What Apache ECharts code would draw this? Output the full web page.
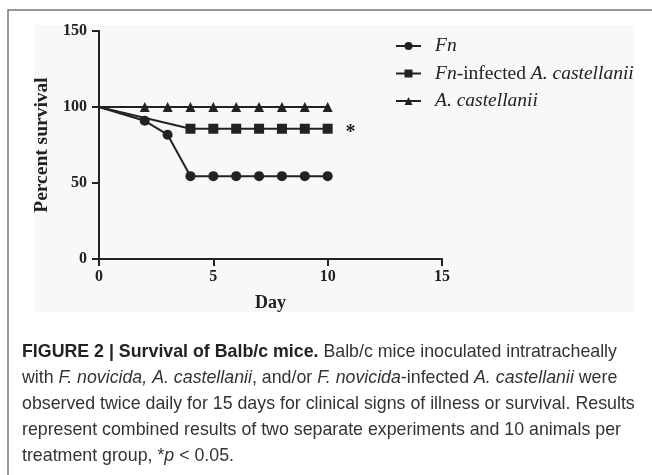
<!DOCTYPE html>
<html>
<head>
<meta charset="utf-8">
<script src="https://cdn.jsdelivr.net/npm/echarts@6/dist/echarts.min.js"></script>
<style>
  html, body { margin: 0; padding: 0; background: #fff; }
  #chart { width: 652px; height: 475px; }
</style>
</head>
<body>
<div id="chart"></div>
<script>
// 数据
const fnDays = [0, 2, 3, 4, 5, 6, 7, 8, 9, 10]
const fnSurvival = [100, 90.9, 81.8, 54.5, 54.5, 54.5, 54.5, 54.5, 54.5, 54.5]
const fnAcDays = [0, 4, 5, 6, 7, 8, 9, 10]
const fnAcSurvival = [100, 85.7, 85.7, 85.7, 85.7, 85.7, 85.7, 85.7]
const acDays = [0, 2, 3, 4, 5, 6, 7, 8, 9, 10]
const acSurvival = [100, 100, 100, 100, 100, 100, 100, 100, 100, 100]
const seriesNames = ['Fn', 'Fn-infected A. castellanii', 'A. castellanii']
const starPoint = [11, 85.7]
const captionLines = [
  '{b|FIGURE 2 | Survival of Balb/c mice.} Balb/c mice inoculated intratracheally',
  'with {i|F. novicida, A. castellanii}, and/or {i|F. novicida}-infected {i|A. castellanii} were',
  'observed twice daily for 15 days for clinical signs of illness or survival. Results',
  'represent combined results of two separate experiments and 10 animals per',
  'treatment group, *{i|p} < 0.05.'
]

const ink = '#222'
const serif = '"Liberation Serif", "DejaVu Serif", serif'
const sans = '"Liberation Sans", Arial, sans-serif'

// 第一个点不画标记
function toData (days, values) {
  return days.map((d, i) => i === 0 ? { value: [d, values[i]], symbol: 'none' } : [d, values[i]])
}

const legendLabels = {
  'Fn': '{i|Fn}',
  'Fn-infected A. castellanii': '{i|Fn}{r|-infected }{i|A. castellanii}',
  'A. castellanii': '{i|A. castellanii}'
}

const chartInstance = echarts.init(document.getElementById('chart'))

const captionGraphics = captionLines.map((line, i) => ({
  type: 'text',
  left: 22,
  top: 343 + i * 26,
  style: {
    text: line,
    fill: '#333',
    font: '17.8px ' + sans,
    rich: {
      b: { fontWeight: 'bold', fontSize: 17.8, fontFamily: sans, fill: '#222' },
      i: { fontStyle: 'italic', fontSize: 17.8, fontFamily: sans, fill: '#333' }
    }
  }
}))

const option = {
  animation: false,
  backgroundColor: '#fff',
  graphic: [
    {
      type: 'rect',
      z: -10,
      shape: { x: 35, y: 25, width: 599, height: 287 },
      style: { fill: '#f8f8f8' }
    },
    {
      type: 'polyline',
      z: -9,
      shape: { points: [[8, 475], [8, 10], [652, 10]] },
      style: { stroke: '#777', lineWidth: 1.5, fill: null }
    },
    ...captionGraphics
  ],
  grid: {
    left: 99,
    right: 210,
    top: 31,
    bottom: 216
  },
  legend: {
    left: 395,
    top: 36,
    padding: 0,
    orient: 'vertical',
    itemWidth: 25,
    itemHeight: 10,
    itemGap: 7.5,
    data: seriesNames,
    formatter: name => legendLabels[name],
    textStyle: {
      color: ink,
      fontSize: 19.5,
      lineHeight: 18.5,
      fontFamily: serif,
      padding: [0, 0, 0, 9],
      rich: {
        i: { fontStyle: 'italic', fontSize: 19.5, fontFamily: serif, color: ink },
        r: { fontSize: 19.5, fontFamily: serif, color: ink }
      }
    }
  },
  xAxis: {
    type: 'value',
    min: 0,
    max: 15,
    interval: 5,
    name: 'Day',
    nameLocation: 'middle',
    nameGap: 35,
    nameTextStyle: { color: ink, fontSize: 18, fontWeight: 'bold', fontFamily: serif },
    splitLine: { show: false },
    axisLine: { onZero: false, lineStyle: { color: ink, width: 2 } },
    axisTick: { length: 7, lineStyle: { color: ink, width: 2 } },
    axisLabel: { margin: 10, color: ink, fontSize: 16, fontWeight: 'bold', fontFamily: serif }
  },
  yAxis: {
    type: 'value',
    min: 0,
    max: 150,
    interval: 50,
    name: 'Percent survival',
    nameLocation: 'middle',
    nameGap: 43,
    nameTextStyle: { color: ink, fontSize: 19.5, fontWeight: 'bold', fontFamily: serif },
    splitLine: { show: false },
    axisLine: { show: true, onZero: false, lineStyle: { color: ink, width: 2 } },
    axisTick: { show: true, length: 7, lineStyle: { color: ink, width: 2 } },
    axisLabel: { margin: 12, color: ink, fontSize: 16, fontWeight: 'bold', fontFamily: serif }
  },
  series: [
    {
      name: seriesNames[0],
      type: 'line',
      symbol: 'circle',
      symbolSize: 10,
      color: ink,
      lineStyle: { color: ink, width: 2 },
      itemStyle: { color: ink },
      data: toData(fnDays, fnSurvival)
    },
    {
      name: seriesNames[1],
      type: 'line',
      symbol: 'rect',
      symbolSize: 10,
      color: ink,
      lineStyle: { color: ink, width: 2 },
      itemStyle: { color: ink },
      data: toData(fnAcDays, fnAcSurvival),
      markPoint: {
        symbol: 'circle',
        symbolSize: 0,
        data: [{ coord: starPoint }],
        label: {
          show: true,
          position: 'inside',
          formatter: '*',
          offset: [0, 4],
          color: ink,
          fontSize: 20,
          fontWeight: 'bold',
          fontFamily: serif
        }
      }
    },
    {
      name: seriesNames[2],
      type: 'line',
      symbol: 'triangle',
      symbolSize: 10,
      color: ink,
      lineStyle: { color: ink, width: 2 },
      itemStyle: { color: ink },
      data: toData(acDays, acSurvival)
    }
  ]
}

chartInstance.setOption(option)
</script>
</body>
</html>
